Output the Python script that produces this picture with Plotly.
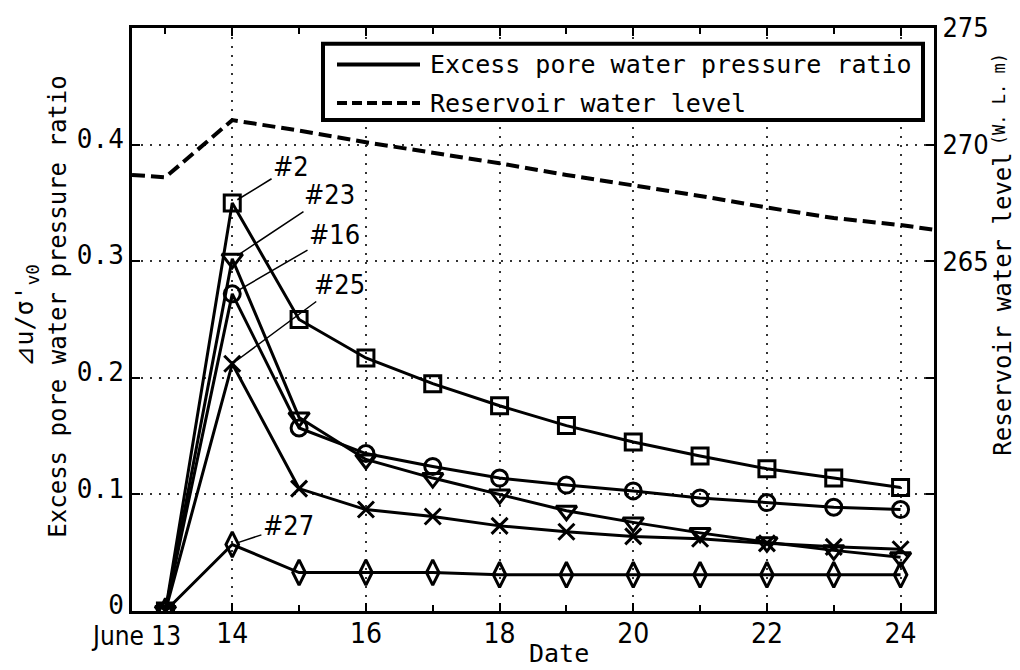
import plotly.graph_objects as go

days = [13, 14, 15, 16, 17, 18, 19, 20, 21, 22, 23, 24]
p2 = [0, 0.350, 0.250, 0.217, 0.195, 0.176, 0.159, 0.145, 0.133, 0.122, 0.114, 0.106]
p23 = [0, 0.302, 0.166, 0.130, 0.114, 0.100, 0.086, 0.076, 0.067, 0.059, 0.052, 0.046]
p16 = [0, 0.272, 0.157, 0.135, 0.124, 0.114, 0.108, 0.103, 0.097, 0.093, 0.089, 0.087]
p25 = [0, 0.212, 0.105, 0.087, 0.081, 0.073, 0.068, 0.064, 0.062, 0.058, 0.055, 0.053]
p27 = [0, 0.057, 0.033, 0.033, 0.033, 0.031, 0.031, 0.031, 0.031, 0.031, 0.031, 0.031]

wl_days = [12.5, 13, 14, 15, 16, 17, 18, 19, 20, 21, 22, 23, 24, 24.5]
wl = [268.7, 268.6, 271.05, 270.6, 270.1, 269.65, 269.2, 268.7, 268.25, 267.8, 267.3, 266.85, 266.55, 266.35]

xtick_vals = [14, 16, 18, 20, 22, 24]
xtick_text = ["14", "16", "18", "20", "22", "24"]
ytick_vals = [0, 0.1, 0.2, 0.3, 0.4]
ytick_text = ["0", "0.1", "0.2", "0.3", "0.4"]
y2tick_vals = [265, 270, 275]
y2tick_text = ["265", "270", "275"]

labels = [("#2", p2, "square-open", 16),
          ("#23", p23, "triangle-down-open", 18),
          ("#16", p16, "circle-open", 16),
          ("#25", p25, "x-thin-open", 16),
          ("#27", p27, "diamond-tall-open", 18)]

MONO = "DejaVu Sans Mono"
NARROW = "Liberation Sans Narrow, DejaVu Sans Condensed, Roboto Condensed, Arial Narrow, sans-serif"

fig = go.Figure()
fig.add_trace(go.Scatter(x=wl_days, y=wl, yaxis="y2", mode="lines",
                         line=dict(color="black", width=4, dash="13px,6px"),
                         showlegend=False))
for name, vals, sym, sz in labels:
    fig.add_trace(go.Scatter(x=days, y=vals, mode="lines+markers", name=name,
                             line=dict(color="black", width=3),
                             marker=dict(symbol=sym, size=sz, color="black",
                                         line=dict(color="black", width=3)),
                             showlegend=False))

# callouts: (text, point day, point value, text day, text value)
callouts = [("#2", 14, p2[1], 14.88, 0.381),
            ("#23", 14, p23[1], 15.45, 0.357),
            ("#16", 14, p16[1], 15.53, 0.323),
            ("#25", 14, p25[1], 15.6, 0.280),
            ("#27", 14, p27[1], 14.84, 0.073)]
for t, px, py, tx, ty in callouts:
    fig.add_annotation(x=px, y=py, ax=tx, ay=ty, axref="x", ayref="y",
                       text=t, showarrow=True, arrowhead=0, arrowwidth=1.5,
                       arrowcolor="black", standoff=6,
                       font=dict(family=NARROW, size=27, color="black"))

axis_common = dict(showline=True, linewidth=3, linecolor="black",
                   ticks="inside", tickcolor="black", tickwidth=2, ticklen=8,
                   zeroline=False)

fig.update_layout(
    width=1020, height=670,
    margin=dict(l=132, r=86, t=21, b=59),
    paper_bgcolor="white", plot_bgcolor="white",
    showlegend=False,
    xaxis=dict(range=[12.5, 24.5], tickvals=xtick_vals, ticktext=xtick_text,
               showgrid=True, gridcolor="#333", gridwidth=2, griddash="2px,7px",
               mirror="ticks", ticklabelstandoff=-5,
               minor=dict(dtick=1, tick0=13, ticks="inside", ticklen=6,
                          tickcolor="black", showgrid=False),
               tickfont=dict(family=NARROW, size=28, color="black"),
               **axis_common),
    yaxis=dict(range=[0, 0.5], tickvals=ytick_vals, ticktext=ytick_text,
               showgrid=True, gridcolor="#333", gridwidth=2, griddash="2px,7px",
               mirror=True, ticklabelshift=-6,
               tickfont=dict(family=MONO, size=26, color="black"),
               **axis_common),
    yaxis2=dict(range=[250, 275], overlaying="y", side="right",
                tickvals=y2tick_vals, ticktext=y2tick_text, showgrid=False,
                minor=dict(dtick=5, tick0=250, ticks="inside", ticklen=8,
                           tickwidth=2, tickcolor="black", showgrid=False),
                tickfont=dict(family=NARROW, size=27, color="black"),
                **axis_common),
)

def px_x(p):
    return (p - 132) / 802

def px_y(p):
    return (611 - p) / 590

# legend box drawn manually
fig.add_shape(type="rect", xref="paper", yref="paper",
              x0=px_x(323), x1=px_x(923), y0=px_y(114), y1=px_y(37),
              line=dict(color="black", width=4), fillcolor="white")
fig.add_shape(type="line", xref="paper", yref="paper",
              x0=px_x(337), x1=px_x(420), y0=px_y(58), y1=px_y(58),
              line=dict(color="black", width=4))
fig.add_shape(type="line", xref="paper", yref="paper",
              x0=px_x(337), x1=px_x(420), y0=px_y(97), y1=px_y(97),
              line=dict(color="black", width=4, dash="10px,5px"))
fig.add_annotation(xref="paper", yref="paper", x=px_x(428), y=px_y(58),
                   xanchor="left", yanchor="middle", showarrow=False,
                   text="Excess pore water pressure ratio",
                   font=dict(family=MONO, size=25, color="black"))
fig.add_annotation(xref="paper", yref="paper", x=px_x(428), y=px_y(97),
                   xanchor="left", yanchor="middle", showarrow=False,
                   text="Reservoir water level",
                   font=dict(family=MONO, size=25, color="black"))

# axis titles
fig.add_annotation(xref="paper", yref="paper", x=px_x(58), y=px_y(303),
                   xanchor="center", yanchor="middle", showarrow=False, textangle=-90,
                   text="Excess pore water pressure ratio",
                   font=dict(family=MONO, size=24, color="black"))
fig.add_annotation(xref="paper", yref="paper", x=px_x(26), y=px_y(312),
                   xanchor="center", yanchor="middle", showarrow=False, textangle=-90,
                   text="⊿u/σ'<sub>v0</sub>",
                   font=dict(family=MONO, size=25, color="black"))
fig.add_annotation(xref="paper", yref="paper", x=px_x(1003), y=px_y(301),
                   xanchor="center", yanchor="middle", showarrow=False, textangle=-90,
                   text="Reservoir water level",
                   font=dict(family=MONO, size=24, color="black"))
fig.add_annotation(xref="paper", yref="paper", x=px_x(999), y=px_y(93),
                   xanchor="center", yanchor="middle", showarrow=False, textangle=-90,
                   text="(W. L. m)",
                   font=dict(family=MONO, size=17, color="black"))
fig.add_annotation(xref="paper", yref="paper", x=px_x(559), y=px_y(654),
                   xanchor="center", yanchor="middle", showarrow=False,
                   text="Date",
                   font=dict(family=MONO, size=25, color="black"))
fig.add_annotation(xref="x", yref="paper", x=13.26, y=px_y(636),
                   xanchor="right", yanchor="middle", showarrow=False,
                   text="June 13",
                   font=dict(family=NARROW, size=26, color="black"))

fig.write_html("out.html")
